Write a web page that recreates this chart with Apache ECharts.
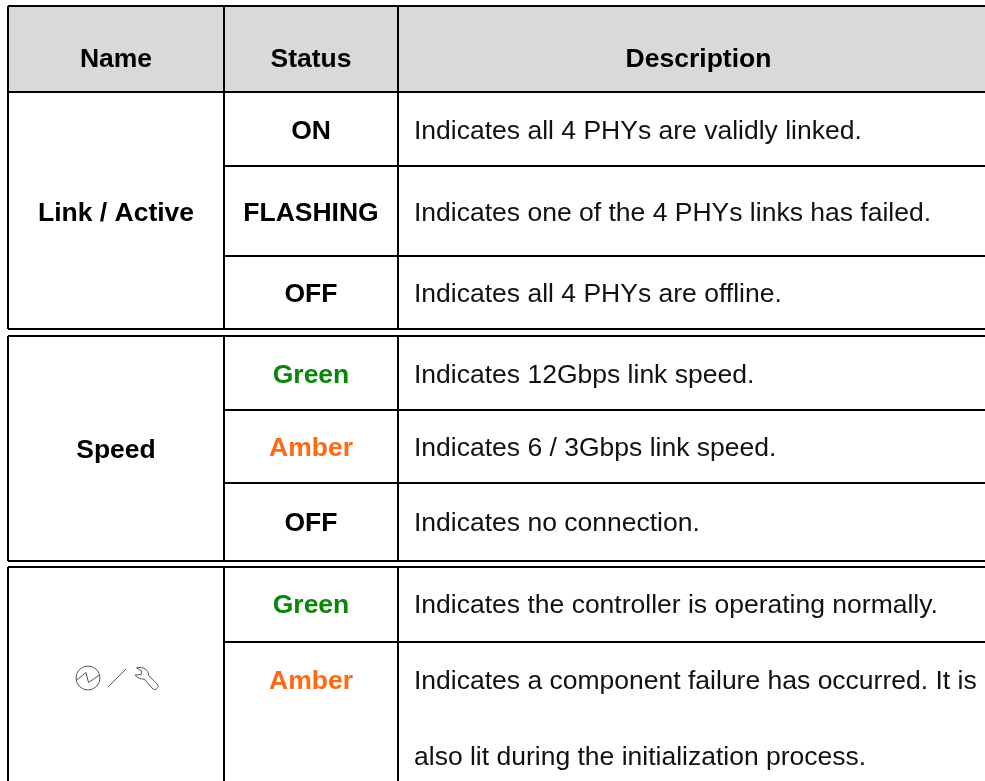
<!DOCTYPE html>
<html>
<head>
<meta charset="utf-8">
<script src="https://cdn.jsdelivr.net/npm/echarts@6/dist/echarts.min.js"></script>
<style>
  html, body { margin: 0; padding: 0; background: #fff; }
  #main { width: 985px; height: 781px; }
</style>
</head>
<body>
<div id="main"></div>
<script>
// table content
var headers = ['Name', 'Status', 'Description'];
var names = ['Link / Active', 'Speed'];
var statuses = ['ON', 'FLASHING', 'OFF', 'Green', 'Amber', 'OFF', 'Green', 'Amber'];
var descriptions = [
    'Indicates all 4 PHYs are validly linked.',
    'Indicates one of the 4 PHYs links has failed.',
    'Indicates all 4 PHYs are offline.',
    'Indicates 12Gbps link speed.',
    'Indicates 6 / 3Gbps link speed.',
    'Indicates no connection.',
    'Indicates the controller is operating normally.',
    'Indicates a component failure has occurred. It is',
    'also lit during the initialization process.'
];

// layout, in axis units (axes run 0-985 and 0-781)
var colLines = [8, 224, 398];
var tableTops = [6, 336, 567];
var tableBottoms = [329, 561, 781];
var rowLines = [92, 166, 256, 410, 483, 642];
var colCenters = [116, 311];
var descLeft = 414;
var headerY = 60;
var nameY = [214, 451];
var statusY = [132, 214, 295, 376, 449, 524, 606, 682];
var descY = [132, 214, 295, 376, 449, 524, 606, 682, 758];
var iconCenter = [88, 678];

var statusColor = { Green: '#0a860a', Amber: '#ff6a13' };
var fontFamily = '"Liberation Sans", Arial, sans-serif';
var lineColor = '#000';

// one row per text cell: x, y, text, align, weight, color
var cells = [];
cells.push([colCenters[0], headerY, headers[0], 'center', 'bold', '#000']);
cells.push([colCenters[1], headerY, headers[1], 'center', 'bold', '#000']);
cells.push([(colLines[2] + 985) / 2 + 7, headerY, headers[2], 'center', 'bold', '#000']);
names.forEach(function (n, i) {
    cells.push([colCenters[0], nameY[i], n, 'center', 'bold', '#000']);
});
statuses.forEach(function (s, i) {
    cells.push([colCenters[1], statusY[i], s, 'center', 'bold', statusColor[s] || '#000']);
});
descriptions.forEach(function (d, i) {
    cells.push([descLeft, descY[i], d, 'left', 'normal', '#111']);
});

// x1, y1, x2, y2 of each ruled line
var rules = [];
tableTops.forEach(function (top, i) {
    var bottom = tableBottoms[i];
    colLines.forEach(function (x) { rules.push([x, top, x, bottom]); });
    rules.push([colLines[0], top, 985, top]);
    if (bottom < 781) rules.push([colLines[0], bottom, 985, bottom]);
});
rowLines.forEach(function (y, i) {
    // the first rule is the header rule and spans all columns
    rules.push([i === 0 ? colLines[0] : colLines[1], y, 985, y]);
});

var chart = echarts.init(document.getElementById('main'), null, { renderer: 'canvas' });
chart.setOption({
    animation: false,
    backgroundColor: '#fff',
    grid: { left: 0, right: 0, top: 0, bottom: 0 },
    xAxis: { type: 'value', min: 0, max: 985, show: false },
    yAxis: { type: 'value', min: 0, max: 781, inverse: true, show: false },
    series: [
        {
            // grey header band
            type: 'custom',
            silent: true,
            data: [[colLines[0], tableTops[0], 985, rowLines[0]]],
            encode: { x: [0, 2], y: [1, 3] },
            renderItem: function (params, api) {
                var a = api.coord([api.value(0), api.value(1)]);
                var b = api.coord([api.value(2), api.value(3)]);
                return {
                    type: 'rect',
                    shape: { x: a[0], y: a[1], width: b[0] - a[0], height: b[1] - a[1] },
                    style: { fill: '#d9d9d9' }
                };
            }
        },
        {
            type: 'custom',
            silent: true,
            data: rules,
            encode: { x: [0, 2], y: [1, 3] },
            renderItem: function (params, api) {
                var a = api.coord([api.value(0), api.value(1)]);
                var b = api.coord([api.value(2), api.value(3)]);
                return {
                    type: 'line',
                    shape: { x1: a[0], y1: a[1], x2: b[0], y2: b[1] },
                    style: { stroke: lineColor, lineWidth: 2, fill: null }
                };
            }
        },
        {
            type: 'custom',
            silent: true,
            data: cells,
            encode: { x: 0, y: 1 },
            renderItem: function (params, api) {
                var row = cells[params.dataIndex];
                var p = api.coord([row[0], row[1]]);
                return {
                    type: 'text',
                    x: p[0],
                    y: p[1],
                    style: {
                        text: row[2],
                        align: row[3],
                        verticalAlign: 'middle',
                        fill: row[5],
                        font: row[4] + ' 26.5px ' + fontFamily
                    }
                };
            }
        },
        {
            // power / fault icon in the last name cell
            type: 'custom',
            silent: true,
            data: [iconCenter],
            encode: { x: 0, y: 1 },
            renderItem: function (params, api) {
                var c = api.coord([api.value(0), api.value(1)]);
                var stroke = { stroke: '#555', lineWidth: 1, fill: null };
                return {
                    type: 'group',
                    x: c[0],
                    y: c[1],
                    children: [
                        { type: 'circle', shape: { cx: 0, cy: 0, r: 12 }, style: stroke },
                        { type: 'polyline', shape: { points: [[-12, 2.5], [-2, -5.5], [0.5, 4.5], [11.5, -3]] }, style: stroke },
                        { type: 'line', shape: { x1: 20, y1: 9, x2: 38, y2: -9 }, style: stroke },
                        {
                            type: 'path',
                            shape: {
                                pathData: 'M1.5 1 C8 -0.5 13 2 13.5 8.5 L22 17 C24 20 21 23 18 22 L9 12 C6 12 2 11 0 8 L6 7.5 L6.5 4 Z',
                                layout: 'cover',
                                x: 47,
                                y: -10.5,
                                width: 23,
                                height: 22
                            },
                            style: stroke
                        }
                    ]
                };
            }
        }
    ]
});
</script>
</body>
</html>
